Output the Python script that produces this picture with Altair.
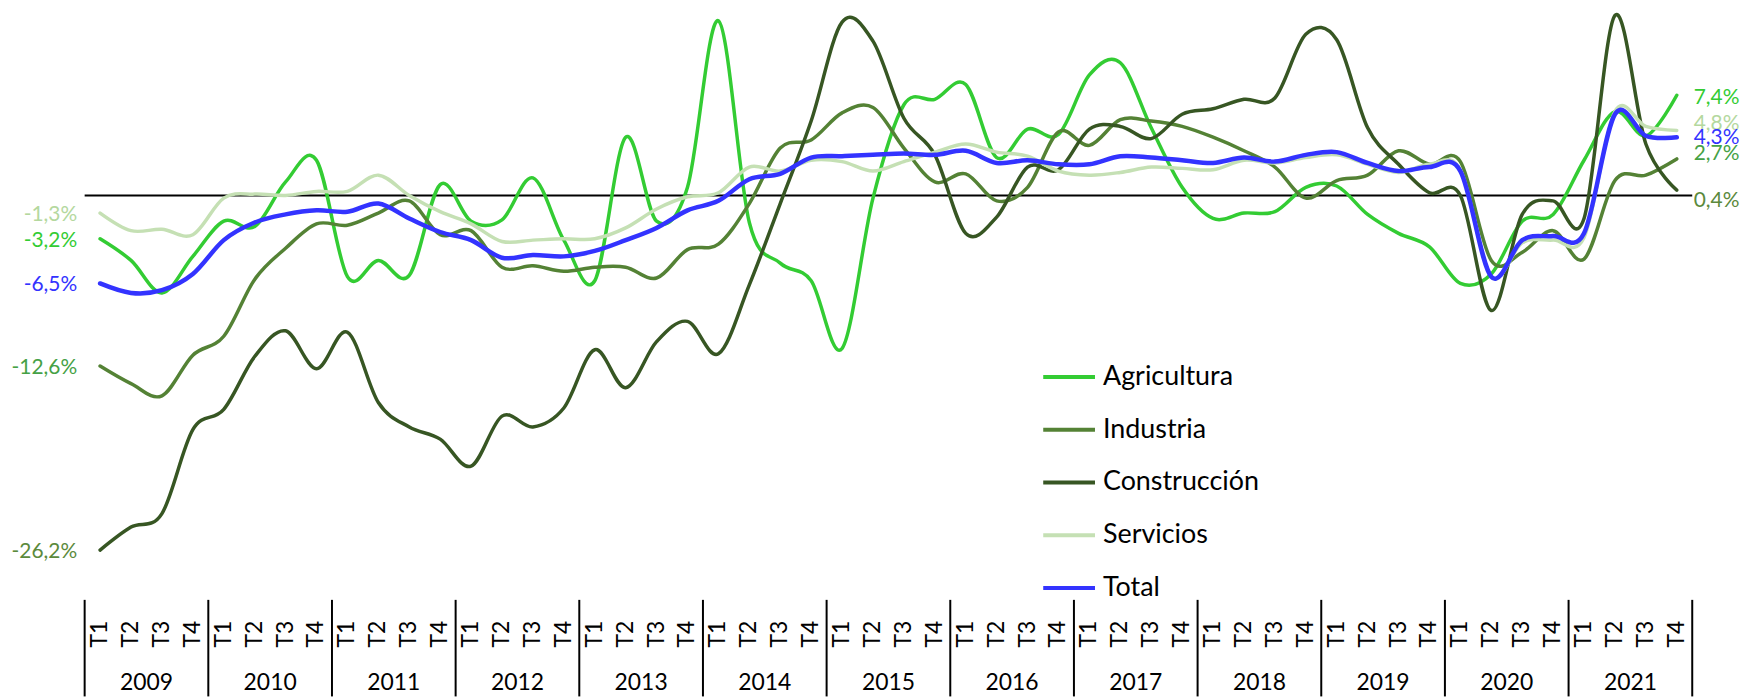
import altair as alt
import pandas as pd

years = [str(y) for y in range(2009, 2022)]
quarters = ["T1", "T2", "T3", "T4"]
series_names = ["Agricultura", "Industria", "Construcción", "Servicios", "Total"]

agricultura = [-3.2, -4.8, -7.2, -4.5,  -1.9, -2.3, 1.0, 2.6,  -6.0, -4.8, -5.9, 0.8,
               -1.9, -1.8, 1.3, -3.3,  -6.3, 4.3, -1.9, 0.6,  12.9, -2.0, -5.0, -6.3,
               -11.3, -0.2, 6.7, 7.1,  8.2, 2.8, 4.9, 4.5,  8.9, 9.8, 5.0, 0.6,
               -1.7, -1.3, -1.2, 0.6,  0.7, -1.4, -2.8, -3.8,  -6.5, -5.8, -1.9, -1.4,
               2.6, 6.2, 4.4, 7.4]
industria = [-12.6, -13.9, -14.8, -11.8,  -10.4, -6.2, -3.9, -2.1,  -2.2, -1.3, -0.4, -2.9,
             -2.6, -5.3, -5.2, -5.6,  -5.3, -5.3, -6.1, -4.0,  -3.6, -0.6, 3.5, 4.1,
             6.1, 6.5, 3.5, 1.0,  1.6, -0.4, 0.6, 4.7,  3.7, 5.6, 5.5, 5.1,
             4.3, 3.3, 2.1, -0.2,  1.1, 1.5, 3.3, 2.3,  2.5, -4.8, -4.2, -2.6,
             -4.7, 1.1, 1.5, 2.7]
construccion = [-26.2, -24.5, -23.5, -17.3,  -15.8, -11.9, -10.0, -12.8,  -10.1, -15.3, -17.1, -18.0,
                -20.0, -16.3, -17.1, -15.7,  -11.4, -14.2, -10.8, -9.3,  -11.7, -6.6, -0.6, 5.5,
                12.8, 11.4, 5.7, 3.0,  -2.8, -1.6, 2.1, 1.9,  4.9, 5.1, 4.2, 6.0,
                6.4, 7.1, 7.2, 11.9,  11.5, 5.0, 2.3, 0.2,  0.0, -8.5, -1.4, -0.4,
                -1.7, 13.3, 3.8, 0.4]
servicios = [-1.3, -2.6, -2.5, -2.9,  -0.2, 0.1, 0.0, 0.3,  0.3, 1.5, 0.0, -1.2,
             -2.1, -3.4, -3.3, -3.2,  -3.2, -2.4, -1.0, -0.1,  0.2, 2.1, 1.8, 2.6,
             2.5, 1.8, 2.5, 3.2,  3.8, 3.2, 2.9, 1.8,  1.5, 1.7, 2.1, 2.0,
             1.9, 2.6, 2.4, 2.8,  3.0, 2.3, 1.7, 2.3,  1.9, -6.0, -3.5, -3.3,
             -3.1, 6.2, 5.1, 4.8]
total = [-6.5, -7.2, -7.0, -5.8,  -3.3, -2.0, -1.4, -1.1,  -1.2, -0.6, -1.7, -2.7,
         -3.3, -4.6, -4.4, -4.5,  -4.1, -3.3, -2.4, -1.1,  -0.4, 1.2, 1.6, 2.8,
         2.9, 3.0, 3.1, 3.0,  3.3, 2.4, 2.6, 2.3,  2.3, 2.9, 2.8, 2.6,
         2.4, 2.8, 2.5, 3.0,  3.2, 2.4, 1.8, 2.1,  1.8, -6.0, -3.3, -3.0,
         -2.8, 6.0, 4.4, 4.3]

values = [agricultura, industria, construccion, servicios, total]
line_colors = ["#33CC33", "#548235", "#375623", "#C5E0B4", "#3333FF"]
label_colors = ["#33CC33", "#45A145", "#5B8A3C", "#B4D89E", "#3333FF"]
line_widths = [3.5, 3.5, 3.5, 3.5, 4.5]
start_dy = [2, 2, 2, 2, 2]
end_dy = [3, -5, 11, -6, 1]

n = len(years) * len(quarters)
FONT = "Lato"

rows = []
for name, vals in zip(series_names, values):
    for i, v in enumerate(vals):
        rows.append({"i": i, "serie": name, "valor": v,
                     "etiqueta": f"{v:.1f}".replace(".", ",") + "%"})
df = pd.DataFrame(rows)

qdf = pd.DataFrame({"i": list(range(n)), "q": [quarters[k % 4] for k in range(n)]})
ydf = pd.DataFrame({"i": [4 * j + 1.5 for j in range(len(years))], "year": years})
sdf = pd.DataFrame({"i": [4 * j - 0.5 for j in range(len(years) + 1)]})
zdf = pd.DataFrame({"valor": [0.0]})

xscale = alt.Scale(domain=[-0.5, n - 0.5], nice=False, zero=False)
yscale = alt.Scale(domain=[-29.8, 13.73], nice=False, zero=False)
X = alt.X("i:Q", scale=xscale, axis=None)
Y = alt.Y("valor:Q", scale=yscale, axis=None)
color = alt.Color(
    "serie:N",
    scale=alt.Scale(domain=series_names, range=line_colors),
    legend=alt.Legend(
        orient="none", legendX=961, legendY=341, title=None,
        symbolType="stroke", symbolSize=2704, symbolStrokeWidth=4,
        labelFont=FONT, labelFontSize=27, labelColor="black",
        labelOffset=6, rowPadding=12, labelLimit=400,
    ),
)

layers = []
layers.append(
    alt.Chart(zdf).mark_rule(color="black", strokeWidth=2).encode(y=Y)
)
for k, name in enumerate(series_names):
    layers.append(
        alt.Chart(df).transform_filter(alt.datum.serie == name)
        .mark_line(interpolate="cardinal", tension=0, strokeWidth=line_widths[k],
                   strokeCap="round", strokeJoin="round", clip=False)
        .encode(x=X, y=Y, color=color)
    )
for k, name in enumerate(series_names):
    layers.append(
        alt.Chart(df).transform_filter((alt.datum.serie == name) & (alt.datum.i == 0))
        .mark_text(align="right", baseline="middle", dx=-23, dy=start_dy[k],
                   font=FONT, fontSize=21, color=label_colors[k])
        .encode(x=X, y=Y, text="etiqueta:N")
    )
    layers.append(
        alt.Chart(df).transform_filter((alt.datum.serie == name) & (alt.datum.i == n - 1))
        .mark_text(align="left", baseline="middle", dx=17, dy=end_dy[k],
                   font=FONT, fontSize=21, color=label_colors[k])
        .encode(x=X, y=Y, text="etiqueta:N")
    )

layers.append(
    alt.Chart(qdf).mark_text(angle=270, align="right", baseline="middle",
                             font=FONT, fontSize=23, color="black")
    .encode(x=X, y=alt.value(614), text="q:N")
)
layers.append(
    alt.Chart(ydf).mark_text(align="center", baseline="middle",
                             font=FONT, fontSize=23, color="black")
    .encode(x=X, y=alt.value(677), text="year:N")
)
layers.append(
    alt.Chart(sdf).mark_rule(color="black", strokeWidth=2)
    .encode(x=X, y=alt.value(593), y2=alt.value(690))
)

chart = alt.layer(*layers).properties(
    width=1615, height=592,
    autosize=alt.AutoSizeParams(type="none"),
    padding={"left": 77, "top": 0, "right": 52, "bottom": 98},
).configure_view(stroke=None)

chart.save("out.html", embed_options={"renderer": "svg", "actions": False})
